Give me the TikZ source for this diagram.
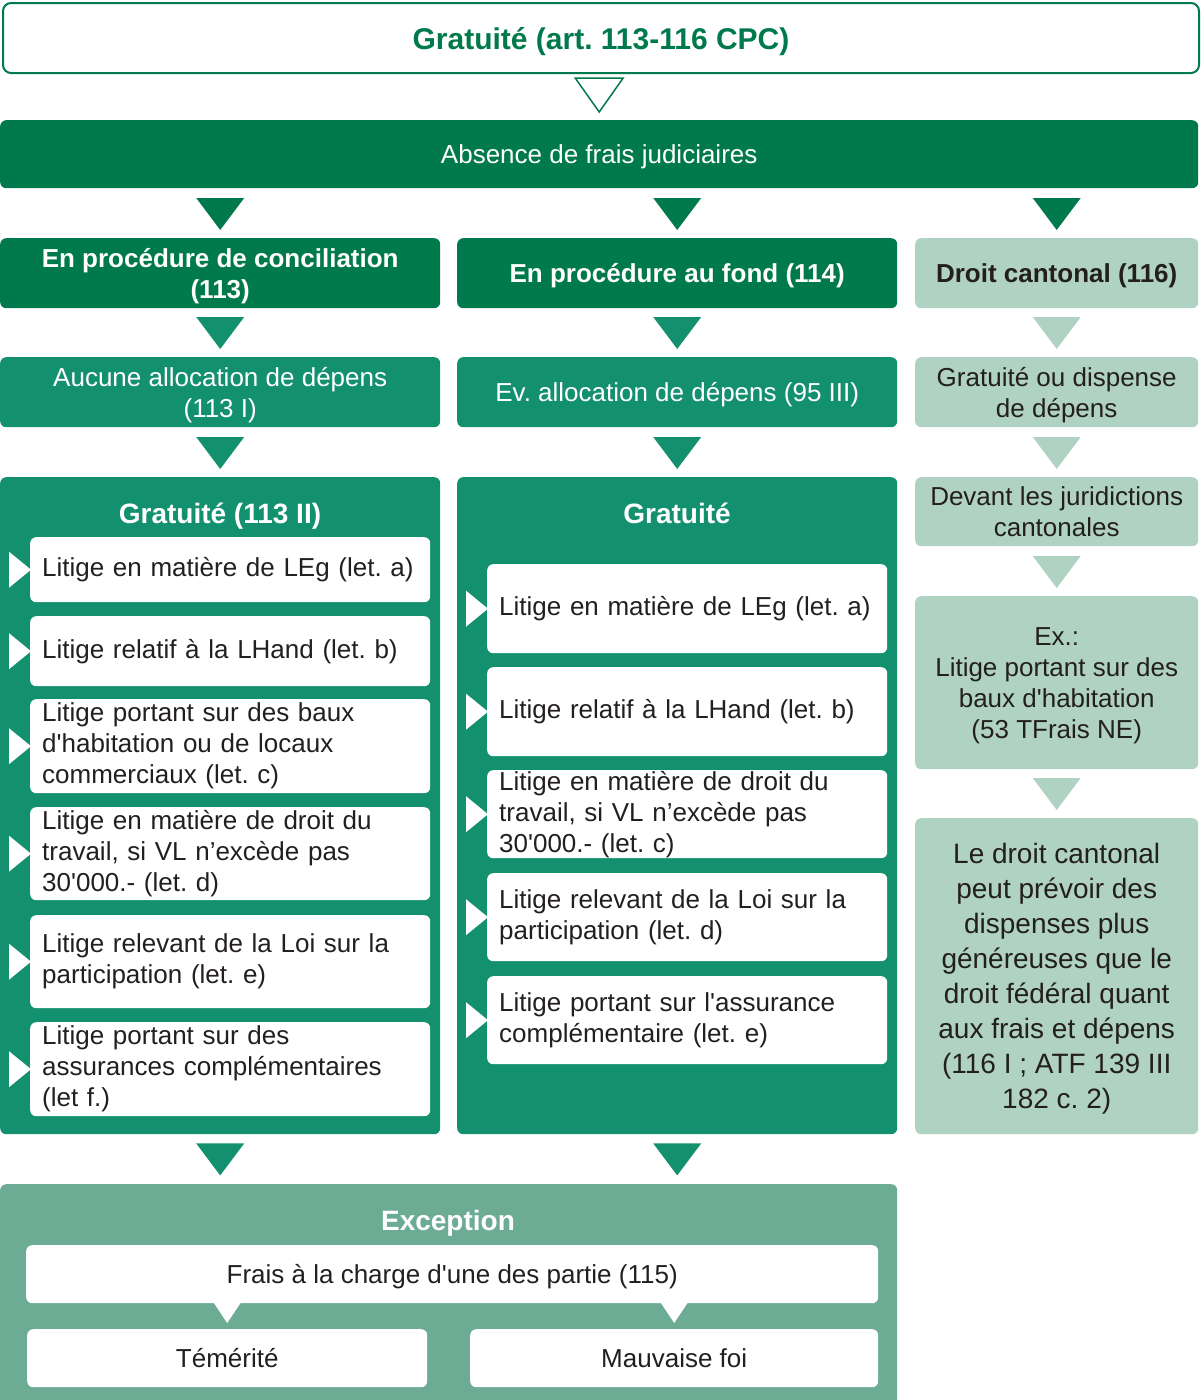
\documentclass[tikz,border=0pt]{standalone}
\usepackage{fontspec}
\setmainfont{Liberation Sans}[Ligatures=TeXOff]
\usetikzlibrary{positioning,calc}
\definecolor{cdark}{RGB}{0,122,76}
\definecolor{cmid}{RGB}{19,145,111}
\definecolor{clight}{RGB}{176,210,194}
\definecolor{cexc}{RGB}{108,171,148}
\definecolor{ctext}{RGB}{35,31,32}
\newcommand{\txtfont}{\fontsize{26}{31}\selectfont}
\newcommand{\bigfont}{\fontsize{28}{35}\selectfont}
\newcommand{\headfont}{\fontsize{28}{34}\selectfont\bfseries}
\frenchspacing

\begin{document}
\begin{tikzpicture}[x=1pt, y=-1pt,
	box/.style={anchor=north west, rounded corners=6pt, inner sep=0pt, align=center, font=\txtfont},
	flat/.style={box, text depth=0pt},
	darkbox/.style={flat, fill=cdark, text=white, font=\txtfont\bfseries, minimum width=440, minimum height=70},
	midbox/.style={flat, fill=cmid, text=white, minimum width=440, minimum height=70},
	lightbox/.style={flat, fill=clight, text=ctext, minimum width=283},
	panel/.style={box, fill=cmid, minimum width=440, minimum height=657},
	item/.style={box, fill=white, text=ctext, align=left, text width=376, inner xsep=12pt, minimum height=#1},
	whitebox/.style={flat, fill=white, text=ctext, minimum height=58},
	head/.style={text=white, text depth=0pt, font=\headfont}]
		\useasboundingbox (0,0) rectangle (1200,1400);
		
		\node[flat, draw=cdark, line width=2pt, fill=white, text=cdark, rounded corners=8pt,
			font=\fontsize{30}{36}\selectfont\bfseries, minimum width=1196, minimum height=70] (titre) at (2,2) {Gratuité (art. 113-116 CPC)};
		\node[flat, fill=cdark, text=white, minimum width=1198, minimum height=68] (abs) at (0,120) {Absence de frais judiciaires};
		
		\node[darkbox] (conc) at (0,238) {En procédure de conciliation\\(113)};
		\node[darkbox] (fond) at (457,238) {En procédure au fond (114)};
		\node[lightbox, font=\txtfont\bfseries, minimum height=70] (cant) at (915,238) {Droit cantonal (116)};
		
		\node[midbox] (alloc1) at (0,357) {Aucune allocation de dépens\\(113 I)};
		\node[midbox] (alloc2) at (457,357) {Ev. allocation de dépens (95 III)};
		\node[lightbox, minimum height=70] (disp) at (915,357) {Gratuité ou dispense\\de dépens};
		
		\node[panel] (gl) at (0,477) {};
		\node[panel] (gm) at (457,477) {};
		\node[head] (hgl) at (220,513) {Gratuité (113 II)};
		\node[head] (hgm) at (677,513) {Gratuité};
		
		\node[lightbox, minimum height=69] (jur) at (915,477) {Devant les juridictions\\cantonales};
		\node[lightbox, minimum height=173] (ex) at (915,596) {Ex.:\\Litige portant sur des\\baux d'habitation\\(53 TFrais NE)};
		\node[lightbox, font=\bigfont, minimum height=316] (fed) at (915,818) {Le droit cantonal\\peut prévoir des\\dispenses plus\\généreuses que le\\droit fédéral quant\\aux frais et dépens\\(116 I ; ATF 139 III\\182 c. 2)};
		
		\node[item=65] (l1) at (30,537) {Litige en matière de LEg (let. a)};
		\node[item=70] (l2) at (30,616) {Litige relatif à la LHand (let. b)};
		\node[item=94] (l3) at (30,699) {Litige portant sur des baux\\d'habitation ou de locaux\\commerciaux (let. c)};
		\node[item=93] (l4) at (30,807) {Litige en matière de droit du\\travail, si VL n’excède pas\\30'000.- (let. d)};
		\node[item=93] (l5) at (30,915) {Litige relevant de la Loi sur la\\participation (let. e)};
		\node[item=94] (l6) at (30,1022) {Litige portant sur des\\assurances complémentaires\\(let f.)};
		
		\node[item=89] (m1) at (487,564) {Litige en matière de LEg (let. a)};
		\node[item=89] (m2) at (487,667) {Litige relatif à la LHand (let. b)};
		\node[item=88] (m3) at (487,770) {Litige en matière de droit du\\travail, si VL n’excède pas\\30'000.- (let. c)};
		\node[item=88] (m4) at (487,873) {Litige relevant de la Loi sur la\\participation (let. d)};
		\node[item=88] (m5) at (487,976) {Litige portant sur l'assurance\\complémentaire (let. e)};
		
		\node[box, fill=cexc, minimum width=897, minimum height=222] (exc) at (0,1184) {};
		\node[head] (hexc) at (448,1220) {Exception};
		\node[whitebox, minimum width=852] (charge) at (26,1245) {Frais à la charge d'une des partie (115)};
		\node[whitebox, minimum width=400] (tem) at (27,1329) {Témérité};
		\node[whitebox, minimum width=408] (mauv) at (470,1329) {Mauvaise foi};
		
		% triangles
		\draw[cdark, line width=1.5pt, fill=white] (abs.north) ++(0,-42) ++(-24,0) -- ++(48,0) -- ++(-24,34) -- cycle;
		\foreach \n/\c in {conc/cdark, fond/cdark, cant/cdark, alloc1/cmid, alloc2/cmid, disp/clight,
			gl/cmid, gm/cmid, jur/clight, ex/clight, fed/clight}
			\fill[\c] (\n.north) ++(-24,-40) -- ++(48,0) -- ++(-24,32) -- cycle;
		\foreach \n in {gl,gm}
			\fill[cmid] ($(\n.south)+(-24,9)$) -- ++(48,0) -- ++(-24,32) -- cycle;
		\foreach \n in {l1,l2,l3,l4,l5,l6,m1,m2,m3,m4,m5}
			\fill[white] (\n.west) ++(-21,-18) -- ++(0,36) -- ++(22,-18) -- cycle;
		\foreach \n in {tem,mauv}
			\fill[white] (\n.north) ++(-14,-27) -- ++(28,0) -- ++(-14,21) -- cycle;
		
\end{tikzpicture}
\end{document}
